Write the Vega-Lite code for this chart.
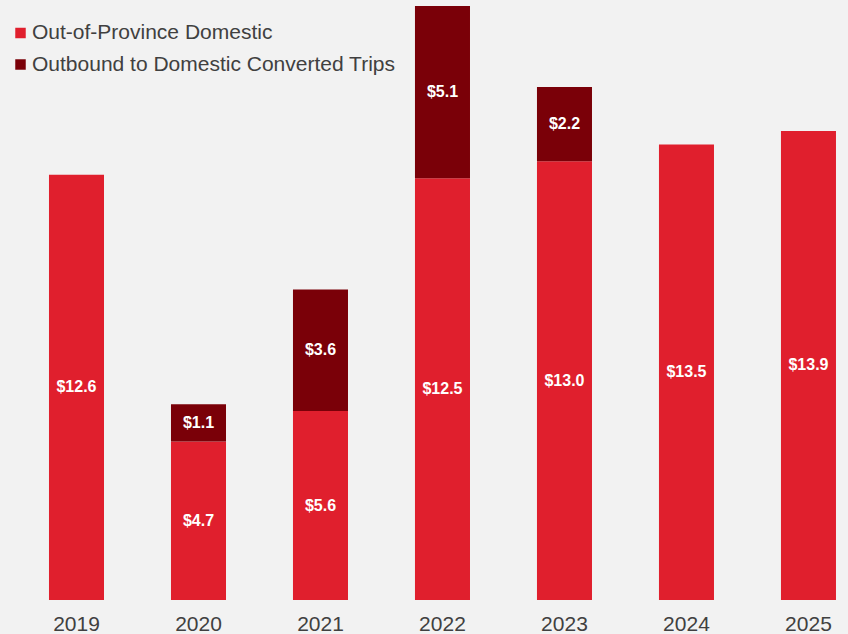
{
  "$schema": "https://vega.github.io/schema/vega-lite/v6.json",
  "width": 848,
  "height": 600,
  "autosize": {"type": "pad"},
  "padding": 0,
  "background": "#F2F2F2",
  "config": {
    "view": {"stroke": null, "fill": "#F2F2F2"},
    "font": "Liberation Sans"
  },
  "data": {
    "values": [
      {"year": "2019", "series": "Out-of-Province Domestic", "value": 12.6, "ord": 1},
      {"year": "2020", "series": "Out-of-Province Domestic", "value": 4.7, "ord": 1},
      {"year": "2020", "series": "Outbound to Domestic Converted Trips", "value": 1.1, "ord": 2},
      {"year": "2021", "series": "Out-of-Province Domestic", "value": 5.6, "ord": 1},
      {"year": "2021", "series": "Outbound to Domestic Converted Trips", "value": 3.6, "ord": 2},
      {"year": "2022", "series": "Out-of-Province Domestic", "value": 12.5, "ord": 1},
      {"year": "2022", "series": "Outbound to Domestic Converted Trips", "value": 5.1, "ord": 2},
      {"year": "2023", "series": "Out-of-Province Domestic", "value": 13.0, "ord": 1},
      {"year": "2023", "series": "Outbound to Domestic Converted Trips", "value": 2.2, "ord": 2},
      {"year": "2024", "series": "Out-of-Province Domestic", "value": 13.5, "ord": 1},
      {"year": "2025", "series": "Out-of-Province Domestic", "value": 13.9, "ord": 1}
    ]
  },
  "encoding": {
    "x": {
      "field": "year", "type": "ordinal",
      "scale": {"paddingInner": 0.549, "paddingOuter": 0.25, "align": 0.803},
      "axis": {"title": null, "labelAngle": 0, "ticks": false, "domain": false, "labelFontSize": 21, "labelColor": "#404040", "labelPadding": 13, "labelFont": "Liberation Sans"}
    },
    "order": {"field": "ord", "type": "quantitative"}
  },
  "layer": [
    {
      "mark": {"type": "bar"},
      "encoding": {
        "y": {
          "field": "value", "type": "quantitative", "stack": "zero",
          "scale": {"domain": [0, 17.78], "nice": false},
          "axis": null
        },
        "color": {
          "field": "series", "type": "nominal",
          "scale": {"domain": ["Out-of-Province Domestic", "Outbound to Domestic Converted Trips"], "range": ["#E01F2D", "#7A0008"]},
          "legend": {
            "title": null, "orient": "none", "legendX": 10, "legendY": 22.5,
            "symbolType": "square", "symbolSize": 110, "symbolStrokeWidth": 0,
            "labelFontSize": 21, "labelColor": "#404040", "labelFont": "Liberation Sans", "labelLimit": 600,
            "rowPadding": 9.5, "labelOffset": 1, "padding": 0
          }
        }
      }
    },
    {
      "mark": {"type": "text", "color": "white", "fontWeight": "bold", "fontSize": 16, "font": "Liberation Sans", "baseline": "middle"},
      "encoding": {
        "y": {
          "field": "value", "type": "quantitative", "stack": "zero", "bandPosition": 0.5,
          "scale": {"domain": [0, 17.78], "nice": false},
          "axis": null
        },
        "text": {"field": "value", "type": "quantitative", "format": "$.1f"}
      }
    }
  ]
}
